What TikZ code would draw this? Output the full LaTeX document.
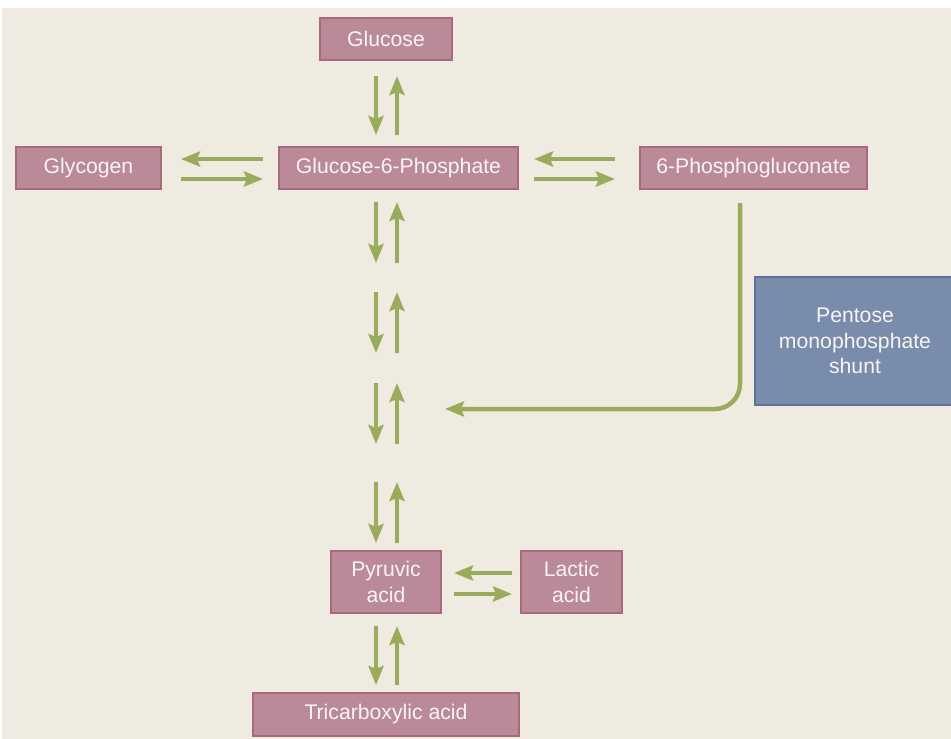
\documentclass[tikz,border=0pt]{standalone}
\usepackage{fontspec}
\setmainfont{Liberation Sans}
\usetikzlibrary{arrows.meta,calc}
\definecolor{bgc}{HTML}{EFEBE0}
\definecolor{boxfill}{HTML}{BB8A99}
\definecolor{boxline}{HTML}{A8697F}
\definecolor{bluefill}{HTML}{7A8CAB}
\definecolor{blueline}{HTML}{5B7298}
\definecolor{arrgreen}{HTML}{9AAB5B}
\definecolor{txt}{HTML}{F8F4F4}
\tikzset{
  metab/.style={draw=boxline, fill=boxfill, line width=2pt, text=txt, inner sep=0pt,
    font=\fontsize{21.2}{25.5}\selectfont, align=center},
  shunt/.style={draw=blueline, fill=bluefill, line width=2pt, text=txt, inner sep=0pt,
    font=\fontsize{21.2}{25.5}\selectfont, align=center},
  arr/.style={draw=arrgreen, line width=4.5pt,
    -{Stealth[length=19pt,width=15pt,inset=3pt]}}
}
\begin{document}
\begin{tikzpicture}[x=1pt,y=-1pt]
\useasboundingbox (0,0) rectangle (951,739);
\fill[white] (0,0) rectangle (951,739);
\fill[bgc] (2,8) rectangle (951,739);
\begin{scope}
\clip (0,0) rectangle (951,739);
\node[shunt, minimum width=200pt, minimum height=128pt] (pms) at (855,341) {Pentose\\monophosphate\\shunt};
\end{scope}
% nodes
\node[metab, minimum width=132pt, minimum height=42pt] (glu) at (386,39) {Glucose};
\node[metab, minimum width=145pt, minimum height=42pt] (gly) at (88.5,168) {Glycogen};
\node[metab, minimum width=239pt, minimum height=42pt] (g6p) at (398.5,168) {Glucose-6-Phosphate};
\node[metab, minimum width=227pt, minimum height=42pt] (pg) at (753.5,168) {6-Phosphogluconate};
\node[metab, minimum width=110pt, minimum height=62pt] (pyr) at (386,582) {Pyruvic\\acid};
\node[metab, minimum width=101pt, minimum height=62pt] (lac) at (571.5,582) {Lactic\\acid};
\node[metab, minimum width=266pt, minimum height=43pt] (tca) at (386,714.5) {Tricarboxylic acid};
% intermediate steps of glycolysis (free arrow pairs)
\coordinate (s1) at (386,202);
\coordinate (s2) at (386,292);
\coordinate (s3) at (386,383);
\coordinate (s4) at (386,482);
% Glucose <-> G6P
\draw[arr] ($(glu.south)+(-10,15)$) -- ($(g6p.north)+(-22.5,-11)$);
\draw[arr] ($(g6p.north)+(-1.5,-11)$) -- ($(glu.south)+(11,15)$);
% chain of pairs
\foreach \c in {s1,s2,s3,s4}{
  \draw[arr] ($(\c)+(-10,0)$) -- ($(\c)+(-10,61)$);
  \draw[arr] ($(\c)+(11,61)$) -- ($(\c)+(11,0)$);
}
% Pyruvic <-> TCA
\draw[arr] ($(pyr.south)+(-10,12)$) -- ($(tca.north)+(-10,-7)$);
\draw[arr] ($(tca.north)+(11,-7)$) -- ($(pyr.south)+(11,12)$);
% Glycogen <-> G6P
\draw[arr] ($(g6p.west)+(-15,-9)$) -- ($(gly.east)+(19,-9)$);
\draw[arr] ($(gly.east)+(19,11)$) -- ($(g6p.west)+(-15,11)$);
% G6P <-> 6PG
\draw[arr] ($(pg.west)+(-24,-9)$) -- ($(g6p.east)+(15,-9)$);
\draw[arr] ($(g6p.east)+(15,11)$) -- ($(pg.west)+(-24,11)$);
% Pyruvic <-> Lactic
\draw[arr] ($(lac.west)+(-8,-9)$) -- ($(pyr.east)+(12,-9)$);
\draw[arr] ($(pyr.east)+(12,12)$) -- ($(lac.west)+(-8,12)$);
% pentose shunt return
\coordinate (ret) at (445,409);
\draw[arr, rounded corners=25pt] ($(pg.south)+(-13.5,13)$) |- (ret);
\end{tikzpicture}
\end{document}
